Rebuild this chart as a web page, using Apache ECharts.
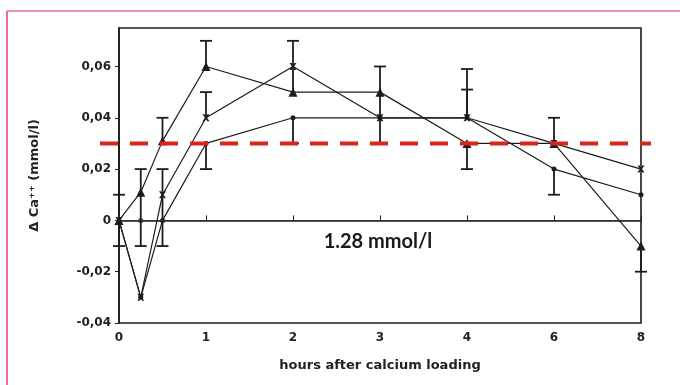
<!DOCTYPE html>
<html>
<head>
<meta charset="utf-8">
<script src="https://cdn.jsdelivr.net/npm/echarts@6/dist/echarts.min.js"></script>
<style>
  html, body {margin: 0; padding: 0; background: #fff;}
  #chart {width: 680px; height: 385px;}
</style>
</head>
<body>
<div id="chart"></div>
<script>
// sampling times (hours) and the tick labels of the uneven time axis
const hours = [0, 0.25, 0.5, 1, 2, 3, 4, 6, 8]
const tickHours = [0, 1, 2, 3, 4, 6, 8]
const xTickLabels = ['0', '1', '2', '3', '4', '6', '8']

// mean change of Ca++ (mmol/l)
const triangleVals = [0, 0.011, 0.031, 0.06, 0.05, 0.05, 0.03, 0.03, -0.01]
const crossVals = [0, -0.03, 0.01, 0.04, 0.06, 0.04, 0.04, 0.03, 0.02]
const dotVals = [0, -0.03, 0, 0.03, 0.04, 0.04, 0.04, 0.02, 0.01]
const extraDotHours = [0.25]
const extraDotVals = [0]

// error bars: one entry per drawn bar
const errHours = [0, 0, 0.25, 0.5, 0.5, 1, 1, 1, 2, 2, 3, 4, 4, 4, 6, 6, 8]
const errLow = [0, -0.01, -0.01, 0.031, -0.01, 0.06, 0.04, 0.02, 0.05, 0.03, 0.03, 0.04, 0.04, 0.02, 0.03, 0.01, -0.02]
const errHigh = [0.03, 0.01, 0.02, 0.04, 0.02, 0.07, 0.05, 0.03, 0.07, 0.04, 0.06, 0.059, 0.051, 0.03, 0.04, 0.02, -0.01]
const capLow = [0, 1, 1, 0, 1, 0, 0, 1, 0, 1, 1, 0, 0, 1, 0, 1, 1]
const capHigh = [0, 1, 1, 1, 1, 1, 1, 0, 1, 0, 1, 1, 1, 0, 1, 0, 0]

const refLevel = 0.03

// hours -> position on the evenly spaced tick axis
function hourToPos(h) {
  for (let i = 0; i < tickHours.length - 1; i++) {
    if (h <= tickHours[i + 1]) {
      return i + (h - tickHours[i]) / (tickHours[i + 1] - tickHours[i])
    }
  }
  return tickHours.length - 1
}

const ink = '#1c1c1c'
const axisFont = {fontFamily: 'DejaVu Sans', fontWeight: 'bold', color: '#222'}

const pairs = vals => vals.map((v, i) => [hourToPos(hours[i]), v])
const crossPath = 'path://M0,0 L3,0 L5,3 L7,0 L10,0 L6.5,5 L10,10 L7,10 L5,7 L3,10 L0,10 L3.5,5 Z'

const lineBase = {
  type: 'line',
  lineStyle: {color: ink, width: 1.2},
  itemStyle: {color: ink},
  z: 4,
}

const chart = echarts.init(document.getElementById('chart'))
chart.setOption({
  animation: false,
  grid: {
    left: 119, right: 39, top: 28, bottom: 62,
    show: true, borderColor: ink, borderWidth: 1.6,
  },
  xAxis: {
    type: 'value', min: 0, max: tickHours.length - 1, interval: 1,
    name: 'hours after calcium loading', nameLocation: 'middle', nameGap: 36,
    nameTextStyle: {...axisFont, fontSize: 13},
    axisLine: {lineStyle: {color: ink, width: 1.6}},
    axisTick: {inside: true, length: 5, lineStyle: {color: ink}},
    axisLabel: {...axisFont, fontSize: 12, margin: 9, formatter: v => xTickLabels[v]},
    splitLine: {show: false},
  },
  yAxis: {
    type: 'value', min: -0.04, max: 0.075, interval: 0.02,
    name: 'Δ Ca⁺⁺ (mmol/l)', nameLocation: 'middle', nameGap: 78,
    nameTextStyle: {...axisFont, fontSize: 13},
    axisLine: {lineStyle: {color: ink, width: 1.6}},
    axisTick: {length: 4, lineStyle: {color: ink}},
    axisLabel: {
      ...axisFont, fontSize: 12, margin: 8, showMaxLabel: false,
      formatter: v => (Math.abs(v) < 1e-9 ? '0' : (v < 0 ? '-' : '') + Math.abs(v).toFixed(2).replace('.', ',')),
    },
    splitLine: {show: false},
  },
  series: [
    {
      type: 'custom',
      z: 3,
      data: errHours.map((h, i) => [hourToPos(h), errLow[i], errHigh[i], capLow[i], capHigh[i]]),
      renderItem: (params, api) => {
        const lo = api.coord([api.value(0), api.value(1)])
        const hi = api.coord([api.value(0), api.value(2)])
        const w = 6
        const style = {stroke: ink, lineWidth: 1.8}
        const children = [{type: 'line', shape: {x1: lo[0], y1: lo[1], x2: hi[0], y2: hi[1]}, style}]
        if (api.value(3)) children.push({type: 'line', shape: {x1: lo[0] - w, y1: lo[1], x2: lo[0] + w, y2: lo[1]}, style})
        if (api.value(4)) children.push({type: 'line', shape: {x1: hi[0] - w, y1: hi[1], x2: hi[0] + w, y2: hi[1]}, style})
        return {type: 'group', children}
      },
    },
    {...lineBase, name: 'triangle', data: pairs(triangleVals), symbol: 'triangle', symbolSize: 9},
    {...lineBase, name: 'cross', data: pairs(crossVals), symbol: crossPath, symbolSize: 7},
    {
      ...lineBase, name: 'dot', data: pairs(dotVals), symbol: 'circle', symbolSize: 5,
      markLine: {
        silent: true, symbol: 'none', label: {show: false},
        lineStyle: {color: '#333', type: 'solid', width: 1.2},
        data: [{yAxis: 0}],
      },
    },
    {
      type: 'scatter', symbol: 'circle', symbolSize: 5, itemStyle: {color: ink}, z: 4,
      data: extraDotHours.map((h, i) => [hourToPos(h), extraDotVals[i]]),
    },
  ],
})

// dashed reference line, pink frame and the 1.28 mmol/l note
const rect = chart.getModel().getComponent('grid').coordinateSystem.getRect()
const refY = chart.convertToPixel({gridIndex: 0}, [0, refLevel])[1]
chart.setOption({
  graphic: [
    {
      type: 'line', z: 10,
      shape: {x1: rect.x - 19, y1: refY, x2: rect.x + rect.width + 10, y2: refY},
      style: {stroke: '#d7261e', lineWidth: 4, lineDash: [18, 12]},
    },
    {type: 'line', shape: {x1: 7, y1: 11, x2: 680, y2: 11}, style: {stroke: '#f391ad', lineWidth: 2}},
    {type: 'line', shape: {x1: 7, y1: 11, x2: 7, y2: 385}, style: {stroke: '#f06a98', lineWidth: 2}},
    {
      type: 'text', x: 378, y: 242,
      style: {
        text: '1.28 mmol/l', fill: '#1a1a1a', align: 'center', verticalAlign: 'middle',
        font: 'bold 20px Lato',
      },
    },
  ],
})
</script>
</body>
</html>
